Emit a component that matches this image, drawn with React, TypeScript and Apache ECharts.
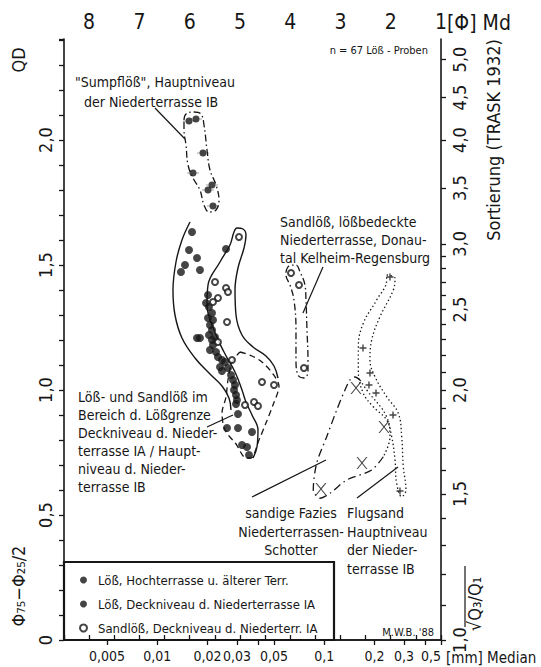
import React, { useEffect, useRef } from "react";
import * as echarts from "echarts";

const FONT = "'Liberation Sans Narrow','DejaVu Sans Condensed','Roboto Condensed',Roboto,sans-serif";
const INK = "#161616";

// ---------- axes ----------
const phiMin = 1;
const phiMax = 8.5;
const qdMin = 0;
const qdMax = 2.404;
const phiLabels = [8, 7, 6, 5, 4, 3, 2, 1];
const medianMM = [0.005, 0.01, 0.02, 0.03, 0.05, 0.1, 0.2, 0.3, 0.5];
const medianLabels = ["0,005", "0,01", "0,02", "0,03", "0,05", "0,1", "0,2", "0,3", "0,5"];
const medianMinorMM = [0.04, 0.4];
const qdLabelValues = [0, 0.5, 1.0, 1.5, 2.0];
const qdLabelText = ["0", "0,5", "1,0", "1,5", "2,0"];
const soTickValues = [1.0, 1.1, 1.2, 1.3, 1.4, 1.5, 1.6, 1.7, 1.8, 1.9, 2.0, 2.1, 2.2, 2.3, 2.4, 2.5, 2.6, 2.7, 2.8, 2.9, 3.0, 3.5, 4.0, 4.5, 5.0];
const soLabelValues = [1.0, 1.5, 2.0, 2.5, 3.0, 3.5, 4.0, 4.5, 5.0];
const soLabelText = ["1,0", "1,5", "2,0", "2,5", "3,0", "3,5", "4,0", "4,5", "5,0"];

// ---------- samples [phi (Md), QD] ----------
const loessHochterrasse = [
  [5.954, 1.632], [6.013, 1.56], [5.854, 1.528], [6.093, 1.5], [5.795, 1.48], [6.173, 1.472], [5.277, 1.564],
  [5.635, 1.38], [5.616, 1.332], [5.556, 1.308], [5.635, 1.288], [5.536, 1.28], [5.596, 1.26], [5.556, 1.24],
  [5.616, 1.22], [5.854, 1.208], [5.795, 1.208], [5.556, 1.2], [5.536, 1.18], [5.596, 1.16], [5.476, 1.152],
  [5.437, 1.132], [5.357, 1.12], [5.297, 1.112], [5.397, 1.092], [5.238, 1.088], [5.357, 1.076], [5.138, 1.04],
  [5.098, 1.02], [5.118, 1.0], [5.078, 0.98], [5.059, 0.96], [5.078, 0.944], [5.675, 1.348], [5.496, 1.212], [5.178, 1.06],
];
const loessDeckniveauIA = [
  [5.039, 0.904], [5.257, 0.848], [5.039, 0.848], [4.76, 0.832], [4.959, 0.78], [4.86, 0.772], [4.82, 0.74],
];
const sumpfloess = [
  [6.013, 2.076], [5.874, 2.084], [5.735, 1.948], [5.934, 1.868], [5.556, 1.82], [5.635, 1.8], [5.536, 1.736],
];
const sandloess = [
  [5.019, 1.612], [5.496, 1.432], [5.277, 1.408], [5.238, 1.392], [5.437, 1.368], [5.536, 1.352], [5.257, 1.272],
  [5.437, 1.192], [5.158, 1.12], [4.561, 1.032], [4.322, 1.02], [4.899, 0.94], [4.72, 0.952], [4.641, 0.936],
  [3.984, 1.468], [3.825, 1.42], [3.726, 1.088],
];
const flugsand = [
  [2.015, 1.452], [2.552, 1.168], [2.413, 1.068], [2.433, 1.02], [2.293, 0.988], [1.955, 0.9], [1.816, 0.596],
];
const schotter = [
  [2.691, 1.008], [2.134, 0.852], [2.572, 0.708], [3.388, 0.604],
];

// ---------- field outlines [phi, QD] ----------
const outlineSumpf = [
  [6.113, 2.08], [6.073, 2.104], [5.914, 2.112], [5.775, 2.104], [5.715, 2.06], [5.655, 1.96], [5.596, 1.88],
  [5.476, 1.82], [5.417, 1.76], [5.476, 1.72], [5.616, 1.712], [5.715, 1.74], [5.795, 1.8], [5.934, 1.848],
  [6.033, 1.9], [6.073, 1.98], [6.113, 2.04], [6.113, 2.08],
];
const outlineHochLeft = [
  [5.993, 1.672], [6.153, 1.6], [6.272, 1.512], [6.332, 1.4], [6.292, 1.3], [6.153, 1.208], [5.894, 1.128],
  [5.596, 1.064], [5.357, 1.016], [5.218, 0.968], [5.178, 0.92],
];
const outlineSandBand = [
  [4.243, 1.048], [4.322, 1.096], [4.482, 1.136], [4.74, 1.172], [4.959, 1.22], [5.078, 1.3], [5.098, 1.4],
  [5.039, 1.488], [4.919, 1.568], [4.88, 1.62], [4.939, 1.644], [5.059, 1.648], [5.118, 1.632], [5.198, 1.58],
  [5.397, 1.512], [5.635, 1.42], [5.655, 1.34], [5.516, 1.24], [5.317, 1.152], [5.098, 1.072], [4.959, 1.0],
  [4.88, 0.952], [4.76, 0.9], [4.641, 0.84], [4.661, 0.772], [4.74, 0.728],
];
const outlineLoessgrenze = [
  [4.999, 1.152], [4.76, 1.136], [4.561, 1.112], [4.342, 1.064], [4.223, 1.016], [4.342, 0.94], [4.482, 0.868],
  [4.621, 0.8], [4.78, 0.728], [4.88, 0.728], [5.078, 0.784], [5.297, 0.84], [5.357, 0.908], [5.277, 0.972],
  [5.238, 1.04], [5.158, 1.112], [4.999, 1.152],
];
const outlineDonautal = [
  [4.084, 1.472], [4.024, 1.496], [3.885, 1.5], [3.805, 1.472], [3.706, 1.42], [3.686, 1.36], [3.666, 1.24],
  [3.646, 1.12], [3.646, 1.072], [3.726, 1.048], [3.845, 1.06], [3.885, 1.12], [3.885, 1.24], [3.925, 1.36],
  [4.004, 1.42], [4.084, 1.46], [4.084, 1.472],
];
const outlineFlugsand = [
  [2.081, 1.46], [1.915, 1.447], [1.949, 1.4], [2.214, 1.293], [2.379, 1.2], [2.413, 1.12], [2.313, 1.053],
  [2.081, 0.973], [1.85, 0.907], [1.782, 0.813], [1.75, 0.693], [1.697, 0.6], [1.782, 0.573], [1.882, 0.627],
  [1.915, 0.72], [1.981, 0.813], [2.081, 0.88], [2.347, 0.933], [2.546, 0.987], [2.645, 1.08], [2.645, 1.173],
  [2.546, 1.267], [2.28, 1.36], [2.081, 1.44], [2.081, 1.46],
];
const outlineSchotterDotted = [
  [2.612, 1.04], [2.478, 1.0], [2.081, 0.893], [2.015, 0.813], [2.148, 0.733],
];
const outlineSchotterDashed = [
  [2.148, 0.733], [2.379, 0.68], [2.876, 0.64], [3.208, 0.587], [3.407, 0.567], [3.541, 0.6], [3.473, 0.707],
  [3.274, 0.813], [3.075, 0.92], [2.91, 1.0], [2.811, 1.04], [2.711, 1.052], [2.612, 1.04],
];

// ---------- leader lines ----------
const leaderSumpf = [[6.69, 2.128], [6.093, 2.004]];
const leaderDonautal = [[3.348, 1.492], [3.746, 1.308]];
const leaderLoessgrenze = [[5.655, 0.852], [5.138, 0.9]];
const leaderSchotter = [[4.76, 0.572], [3.288, 0.72]];
const leaderFlugsand = [[2.671, 0.568], [1.856, 0.692]];

const legendNames = [
  "Löß, Hochterrasse u. älterer Terr.",
  "Löß, Deckniveau d. Niederterrasse IA",
  "Sandlöß, Deckniveau d. Niederterr. IA",
];

const SYM_SUMPF = "path://M0,3.2H2.51A3.5,3.5,0,0,1,9.49,3.2H12V3.8H9.49A3.5,3.5,0,0,1,2.51,3.8H0Z";
const SYM_PLUS = "path://M2.8,0H4.2V2.8H7V4.2H4.2V7H2.8V4.2H0V2.8H2.8Z";
const SYM_X = "path://M0,0H1.4L6,5.1L10.6,0H12L6.7,5.9L12,12H10.6L6,6.7L1.4,12H0L5.3,5.9Z";

function lineSeries(name: string, data: number[][], type: any, smooth: number | boolean, width = 1.3) {
  return {
    type: "line", name, data, symbol: "none", showSymbol: false, smooth, silent: true, z: 2,
    xAxisIndex: 0, yAxisIndex: 0,
    lineStyle: { color: INK, width, type },
  };
}

function txt(text: string, x: number, y: number, extra: any = {}) {
  return {
    type: "text", x, y, silent: true,
    style: { text, fill: INK, fontFamily: FONT, fontSize: 14, lineHeight: 18, align: "left", verticalAlign: "top", ...extra },
  };
}
function vtxt(text: string, x: number, y: number, extra: any = {}) {
  return {
    type: "text", x, y, rotation: Math.PI / 2, silent: true,
    style: { text, fill: INK, fontFamily: FONT, fontSize: 18, align: "center", verticalAlign: "middle", ...extra },
  };
}

const findIdx = (vals: number[], v: number) => vals.findIndex((q) => Math.abs(q - v) < 1e-6);

const bottomLabelPos = medianMM.map((m) => -Math.log2(m));
const bottomTickPos = medianMM.concat(medianMinorMM).map((m) => -Math.log2(m));
const rightTickPos = soTickValues.map((s) => Math.log2(s));
const rightLabelPos = soLabelValues.map((s) => Math.log2(s));

const axisLine = { show: true, lineStyle: { color: INK, width: 1.6 } };
const axisTick = { show: true, length: 5, lineStyle: { color: INK, width: 1.3 } };

const option: any = {
  animation: false,
  backgroundColor: "#fff",
  grid: { left: 64, right: 100, top: 39, bottom: 27, containLabel: false },
  xAxis: [
    {
      type: "value", position: "bottom", min: phiMin, max: phiMax, inverse: true,
      axisLine, splitLine: { show: false },
      axisTick: { ...axisTick, customValues: bottomTickPos },
      axisLabel: {
        customValues: bottomLabelPos, margin: 9, color: INK, fontFamily: FONT, fontSize: 14,
        rich: { r: { fontFamily: FONT, fontSize: 14, color: INK, padding: [0, 20, 0, 0] } },
        formatter: (v: number) => {
          const i = findIdx(bottomLabelPos, v);
          if (i < 0) return "";
          return i === medianLabels.length - 1 ? "{r|" + medianLabels[i] + "}" : medianLabels[i];
        },
      },
    },
    {
      type: "value", position: "top", min: phiMin, max: phiMax, inverse: true, interval: 0.5,
      axisLine, splitLine: { show: false }, axisTick,
      axisLabel: {
        margin: 7, color: INK, fontFamily: FONT, fontSize: 21,
        formatter: (v: number) => (phiLabels.indexOf(v) >= 0 ? String(v) : ""),
      },
    },
  ],
  yAxis: [
    {
      type: "value", position: "left", min: qdMin, max: qdMax, interval: 0.1,
      axisLine, splitLine: { show: false }, axisTick,
      axisLabel: {
        rotate: 90, margin: 10, color: INK, fontFamily: FONT, fontSize: 18,
        formatter: (v: number) => {
          const i = findIdx(qdLabelValues, v);
          return i >= 0 ? qdLabelText[i] : "";
        },
      },
    },
    {
      type: "value", position: "right", min: qdMin, max: qdMax,
      axisLine, splitLine: { show: false },
      axisTick: { ...axisTick, customValues: rightTickPos },
      axisLabel: {
        customValues: rightLabelPos, rotate: 90, margin: 9, color: INK, fontFamily: FONT, fontSize: 18,
        formatter: (v: number) => {
          const i = findIdx(rightLabelPos, v);
          return i >= 0 ? soLabelText[i] : "";
        },
      },
    },
  ],
  legend: {
    data: legendNames, orient: "vertical", left: 79, top: 572, padding: 0,
    itemWidth: 7, itemHeight: 7, itemGap: 8,
    selectedMode: false,
    textStyle: { color: INK, fontFamily: FONT, fontSize: 13, lineHeight: 16, padding: [0, 0, 0, 6] },
  },
  series: [
    lineSeries("outlineSumpf", outlineSumpf, [7, 3, 1.5, 3], 0.4),
    lineSeries("outlineHochLeft", outlineHochLeft, "solid", 0.4, 1.4),
    lineSeries("outlineSandBand", outlineSandBand, "solid", 0.4, 1.4),
    lineSeries("outlineLoessgrenze", outlineLoessgrenze, [6, 4], 0.3),
    lineSeries("outlineDonautal", outlineDonautal, [7, 3, 1.5, 3], 0.4),
    lineSeries("outlineFlugsand", outlineFlugsand, [1.4, 2.6], 0.4),
    lineSeries("outlineSchotterDotted", outlineSchotterDotted, [1.4, 2.6], 0.4),
    lineSeries("outlineSchotterDashed", outlineSchotterDashed, [8, 4, 1.5, 4], 0.3),
    lineSeries("leaderSumpf", leaderSumpf, "solid", false, 1.2),
    lineSeries("leaderDonautal", leaderDonautal, "solid", false, 1.2),
    lineSeries("leaderLoessgrenze", leaderLoessgrenze, "solid", false, 1.2),
    lineSeries("leaderSchotter", leaderSchotter, "solid", false, 1.2),
    lineSeries("leaderFlugsand", leaderFlugsand, "solid", false, 1.2),
    {
      type: "scatter", name: legendNames[0], data: loessHochterrasse, symbol: "circle", symbolSize: 8,
      itemStyle: { color: INK }, z: 5,
    },
    {
      type: "scatter", name: legendNames[1], data: loessDeckniveauIA, symbol: "circle", symbolSize: 8,
      itemStyle: { color: INK }, z: 5,
    },
    {
      type: "scatter", name: legendNames[2], data: sandloess, symbol: "emptyCircle", symbolSize: 6,
      itemStyle: { color: INK, borderWidth: 1.3 }, z: 5,
    },
    {
      type: "scatter", name: "Sumpflöß", data: sumpfloess, symbol: SYM_SUMPF, symbolSize: [12, 7],
      itemStyle: { color: INK }, z: 5,
    },
    {
      type: "scatter", name: "Flugsand", data: flugsand, symbol: SYM_PLUS, symbolSize: 7,
      itemStyle: { color: INK }, z: 5,
    },
    {
      type: "scatter", name: "sandige Fazies", data: schotter, symbol: SYM_X, symbolSize: [11, 12],
      itemStyle: { color: INK }, z: 5,
    },
  ],
  graphic: [
    {
      type: "rect", z: 0, silent: true,
      shape: { x: 64, y: 562, width: 270, height: 78 },
      style: { fill: "#fff", stroke: INK, lineWidth: 2.2 },
    },
    txt("n = 67 Löß - Proben", 428, 50, { fontSize: 11, align: "right", verticalAlign: "middle" }),
    txt("\"Sumpflöß\", Hauptniveau", 75, 73),
    txt("der Niederterrasse IB", 84, 93),
    txt("Sandlöß, lößbedeckte\nNiederterrasse, Donau-\ntal Kelheim-Regensburg", 280, 213),
    txt("Löß- und Sandlöß im\nBereich d. Lößgrenze\nDeckniveau d. Nieder-\nterrasse IA / Haupt-\nniveau d. Nieder-\nterrasse IB", 78, 388),
    txt("sandige Fazies\nNiederterrassen-\nSchotter", 291, 504, { align: "center", lineHeight: 18.5 }),
    txt("Flugsand\nHauptniveau\nder Nieder-\nterrasse IB", 347, 504, { lineHeight: 18.5 }),
    txt("M.W.B. '88", 434, 632, { fontSize: 11, align: "right", verticalAlign: "middle" }),
    txt("[Φ] Md", 447, 23, { fontSize: 21, verticalAlign: "middle" }),
    txt("[mm] Median", 446, 658, { fontSize: 15, verticalAlign: "middle" }),
    vtxt("QD", 18, 60),
    vtxt("Φ₇₅−Φ₂₅/2", 18, 586),
    vtxt("Sortierung (TRASK 1932)", 493, 140),
    vtxt("√Q₃/Q₁", 474, 604),
    {
      type: "line", silent: true,
      shape: { x1: 465, y1: 566, x2: 465, y2: 627 },
      style: { stroke: INK, lineWidth: 1.2 },
    },
  ],
};

export default function App() {
  const ref = useRef<HTMLDivElement>(null);
  useEffect(() => {
    const el = ref.current;
    if (!el) return;
    const chart = echarts.init(el, undefined, { renderer: "svg" });
    chart.setOption(option);
    return () => chart.dispose();
  }, []);
  return (
    <div
      ref={ref}
      style={{ position: "fixed", left: 0, top: 0, width: 541, height: 667, background: "#fff" }}
    />
  );
}
